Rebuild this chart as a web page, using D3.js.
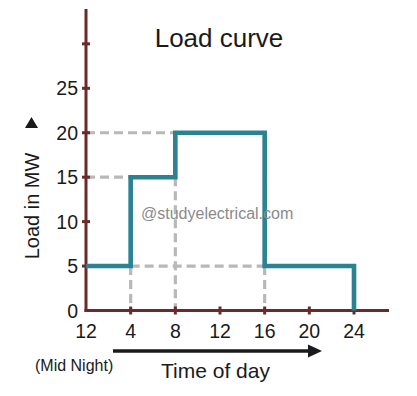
<!DOCTYPE html>
<html>
<head>
  <script src="https://d3js.org/d3.v7.min.js"></script>
  <style>
    body { margin: 0; background: #fff; }
    svg text { font-family: "Liberation Sans", Arial, sans-serif; fill: #1a1a1a; }
  </style>
</head>
<body>
  <svg id="root" width="417" height="396"></svg>
  <script>
    // hours since midnight where the load changes, and the load in each span
    var stepHours = [0, 4, 8, 16, 24];
    var stepLoads = [5, 15, 20, 5];
    var xTicks = [0, 4, 8, 12, 16, 20, 24];
    var xTickLabels = ['12', '4', '8', '12', '16', '20', '24'];
    var yTicks = [0, 5, 10, 15, 20, 25, 30];
    var yTickLabels = ['0', '5', '10', '15', '20', '25', ''];

    var axisColor = '#6a2a2c';
    var lineColor = '#2a8292';
    var dashColor = '#b8b8b8';

    var svg = d3.select('#root');
    var x = d3.scaleLinear().domain([0, 24]).range([86, 354]);
    var y = d3.scaleLinear().domain([0, 25]).range([310.5, 88.3]);

    // dashed guide lines
    var guides = [
      [[0, 20], [8, 20]],
      [[0, 15], [4, 15]],
      [[4, 5], [16, 5]],
      [[4, 5], [4, 0]],
      [[8, 15], [8, 0]],
      [[16, 5], [16, 0]]
    ];
    svg.selectAll('.guide')
      .data(guides)
      .enter()
      .append('line')
      .attr('class', 'guide')
      .attr('x1', function (d) { return x(d[0][0]); })
      .attr('y1', function (d) { return y(d[0][1]); })
      .attr('x2', function (d) { return x(d[1][0]); })
      .attr('y2', function (d) { return y(d[1][1]); })
      .attr('stroke', dashColor)
      .attr('stroke-width', 3.2)
      .attr('stroke-dasharray', '9,5');

    // axes
    svg.append('line')
      .attr('x1', x(0)).attr('x2', x(0))
      .attr('y1', 9).attr('y2', y(0) + 1.5)
      .attr('stroke', axisColor).attr('stroke-width', 3);
    svg.append('line')
      .attr('x1', x(0) - 1.5).attr('x2', 389)
      .attr('y1', y(0)).attr('y2', y(0))
      .attr('stroke', axisColor).attr('stroke-width', 3);

    svg.selectAll('.ytick')
      .data(yTicks.slice(1))
      .enter()
      .append('line')
      .attr('x1', x(0) - 4).attr('x2', x(0) + 4)
      .attr('y1', function (d) { return y(d); })
      .attr('y2', function (d) { return y(d); })
      .attr('stroke', axisColor).attr('stroke-width', 3);

    svg.selectAll('.xtick')
      .data(xTicks.slice(1))
      .enter()
      .append('line')
      .attr('x1', function (d) { return x(d); })
      .attr('x2', function (d) { return x(d); })
      .attr('y1', y(0) - 4).attr('y2', y(0) + 4)
      .attr('stroke', axisColor).attr('stroke-width', 3);

    svg.selectAll('.ylabel')
      .data(yTicks)
      .enter()
      .append('text')
      .attr('x', 78)
      .attr('y', function (d) { return y(d) + 7; })
      .attr('text-anchor', 'end')
      .attr('font-size', 19.5)
      .text(function (d, i) { return yTickLabels[i]; });

    svg.selectAll('.xlabel')
      .data(xTicks)
      .enter()
      .append('text')
      .attr('x', function (d) { return x(d); })
      .attr('y', 338)
      .attr('text-anchor', 'middle')
      .attr('font-size', 19.5)
      .text(function (d, i) { return xTickLabels[i]; });

    // load curve
    var pts = [];
    stepLoads.forEach(function (v, i) {
      pts.push([stepHours[i], v]);
      pts.push([stepHours[i + 1], v]);
    });
    pts.push([24, 0]);
    svg.append('path')
      .datum(pts)
      .attr('fill', 'none')
      .attr('stroke', lineColor)
      .attr('stroke-width', 4.6)
      .attr('stroke-linejoin', 'miter')
      .attr('d', d3.line()
        .x(function (d) { return x(d[0]); })
        .y(function (d) { return y(d[1]); }));

    // texts
    svg.append('text')
      .attr('x', 219).attr('y', 47)
      .attr('text-anchor', 'middle')
      .attr('font-size', 26)
      .text('Load curve');

    svg.append('text')
      .attr('transform', 'translate(38.5,206) rotate(-90)')
      .attr('text-anchor', 'middle')
      .attr('font-size', 20)
      .text('Load in MW');
    svg.append('path')
      .attr('d', 'M31.5,117 L38,128 L25,128 Z')
      .attr('fill', '#1a1a1a');

    svg.append('text')
      .attr('x', 141).attr('y', 219)
      .attr('font-size', 16)
      .style('fill', '#8a8a8a')
      .text('@studyelectrical.com');

    svg.append('line')
      .attr('x1', 113).attr('x2', 310)
      .attr('y1', 351).attr('y2', 351)
      .attr('stroke', '#1a1a1a').attr('stroke-width', 3.5);
    svg.append('path')
      .attr('d', 'M308,344.5 L322,351 L308,357.5 Z')
      .attr('fill', '#1a1a1a');

    svg.append('text')
      .attr('x', 35).attr('y', 371)
      .attr('font-size', 16)
      .text('(Mid Night)');

    svg.append('text')
      .attr('x', 161).attr('y', 378)
      .attr('font-size', 21)
      .text('Time of day');
  </script>
</body>
</html>
